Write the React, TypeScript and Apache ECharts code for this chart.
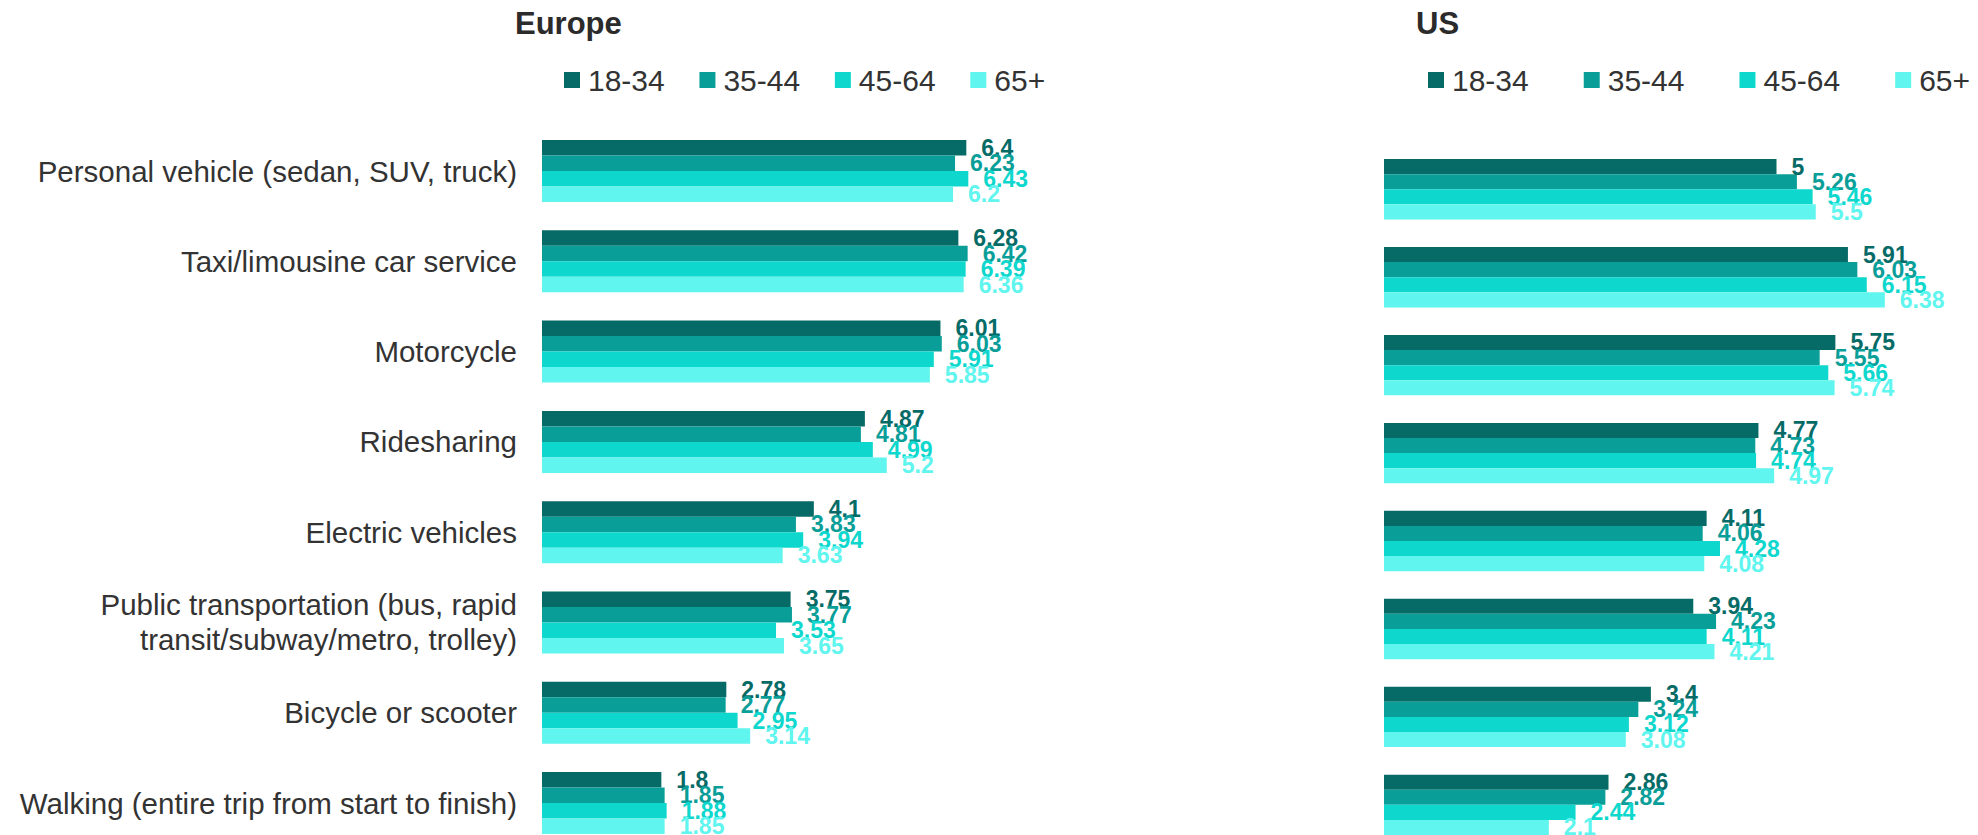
import React, { useEffect, useRef } from "react";
import * as echarts from "echarts";

const categories = [
  "Personal vehicle (sedan, SUV, truck)",
  "Taxi/limousine car service",
  "Motorcycle",
  "Ridesharing",
  "Electric vehicles",
  "Public transportation (bus, rapid\ntransit/subway/metro, trolley)",
  "Bicycle or scooter",
  "Walking (entire trip from start to finish)",
];

const ageGroups = ["18-34", "35-44", "45-64", "65+"];

const europe1834 = [6.4, 6.28, 6.01, 4.87, 4.1, 3.75, 2.78, 1.8];
const europe3544 = [6.23, 6.42, 6.03, 4.81, 3.83, 3.77, 2.77, 1.85];
const europe4564 = [6.43, 6.39, 5.91, 4.99, 3.94, 3.53, 2.95, 1.88];
const europe65 = [6.2, 6.36, 5.85, 5.2, 3.63, 3.65, 3.14, 1.85];

const us1834 = [5, 5.91, 5.75, 4.77, 4.11, 3.94, 3.4, 2.86];
const us3544 = [5.26, 6.03, 5.55, 4.73, 4.06, 4.23, 3.24, 2.82];
const us4564 = [5.46, 6.15, 5.66, 4.74, 4.28, 4.11, 3.12, 2.44];
const us65 = [5.5, 6.38, 5.74, 4.97, 4.08, 4.21, 3.08, 2.1];

const colors = ["#066A66", "#0A9E99", "#0ED7CD", "#60F5EE"];
const FONT = "'Liberation Sans', Arial, sans-serif";

export default function App() {
  const ref = useRef<HTMLDivElement>(null);

  useEffect(() => {
    if (!ref.current) return;
    const chart = echarts.init(ref.current, null, { renderer: "svg" });
    const europeData = [europe1834, europe3544, europe4564, europe65];
    const usData = [us1834, us3544, us4564, us65];

    const makeSeries = (data: number[][], axisIndex: number, barWidth: number) =>
      data.map((vals, i) => ({
        name: ageGroups[i],
        type: "bar",
        xAxisIndex: axisIndex,
        yAxisIndex: axisIndex,
        data: vals,
        barWidth,
        barGap: "0%",
        itemStyle: { color: colors[i] },
        label: {
          show: true,
          position: "right",
          distance: 15,
          color: colors[i],
          fontFamily: FONT,
          fontSize: 23,
          fontWeight: "bold",
        },
      }));

    const legendBase = {
      icon: "rect",
      itemWidth: 16,
      itemHeight: 16,
      top: 65,
      padding: 0,
      data: ageGroups,
      selectedMode: false,
      textStyle: {
        fontFamily: FONT,
        fontSize: 30,
        lineHeight: 30,
        color: "#333333",
        padding: [0, 0, 0, 3],
      },
    };

    const titleStyle = {
      fontFamily: FONT,
      fontSize: 31,
      fontWeight: "bold",
      color: "#2b2b2b",
      lineHeight: 31,
    };

    chart.setOption({
      animation: false,
      title: [
        { text: "Europe", left: 515, top: 8, padding: 0, textStyle: titleStyle },
        { text: "US", left: 1416, top: 8, padding: 0, textStyle: titleStyle },
      ],
      legend: [
        { ...legendBase, left: 564, itemGap: 34.7 },
        { ...legendBase, left: 1428, itemGap: 55 },
      ],
      grid: [
        { left: 542, top: 125.9, width: 7 * 66.3, height: 722.3 },
        { left: 1384, top: 145.3, width: 7 * 78.5, height: 703.5 },
      ],
      xAxis: [
        { type: "value", gridIndex: 0, min: 0, max: 7, show: false },
        { type: "value", gridIndex: 1, min: 0, max: 7, show: false },
      ],
      yAxis: [
        {
          type: "category",
          gridIndex: 0,
          data: categories,
          inverse: true,
          axisLine: { show: false },
          axisTick: { show: false },
          splitLine: { show: false },
          axisLabel: {
            margin: 25,
            fontFamily: FONT,
            fontSize: 29.5,
            lineHeight: 35,
            color: "#333333",
            align: "right",
          },
        },
        {
          type: "category",
          gridIndex: 1,
          data: categories,
          inverse: true,
          axisLine: { show: false },
          axisTick: { show: false },
          splitLine: { show: false },
          axisLabel: { show: false },
        },
      ],
      series: [...makeSeries(europeData, 0, 15.5), ...makeSeries(usData, 1, 15.1)],
    });

    return () => chart.dispose();
  }, []);

  return (
    <div
      style={{
        position: "absolute",
        left: 0,
        top: 0,
        width: 1978,
        height: 835,
        overflow: "hidden",
        background: "#ffffff",
      }}
    >
      <div ref={ref} style={{ width: 1978, height: 900 }} />
    </div>
  );
}
